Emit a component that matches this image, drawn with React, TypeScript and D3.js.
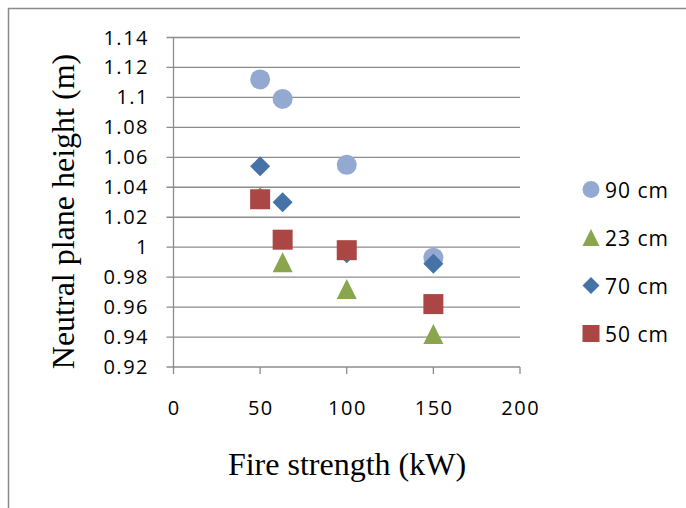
import * as d3 from 'd3';

// fire strength (kW) for every series
const fireKW = [50, 63, 100, 150];

const seriesNames = ['90 cm', '23 cm', '70 cm', '50 cm'];
const h90 = [1.112, 1.099, 1.055, 0.993];
const h23 = [1.034, 0.990, 0.972, 0.942];
const h70 = [1.054, 1.030, 0.996, 0.989];
const h50 = [1.032, 1.005, 0.998, 0.962];

const xTicks = [0, 50, 100, 150, 200];
const yTicks = [0.92, 0.94, 0.96, 0.98, 1.0, 1.02, 1.04, 1.06, 1.08, 1.1, 1.12, 1.14];

const W = 686;
const H = 508;
const plot = { left: 173.5, right: 520, top: 37.5, bottom: 367 };

const tickFont = '"Open Sans", Lato, sans-serif';
const titleFont = '"Liberation Serif", "Times New Roman", serif';

// excel-like marker shapes, centred on their bounding box
const triangle = {
  draw(ctx: any, size: number) {
    const r = Math.sqrt(size) / 2;
    ctx.moveTo(0, -r);
    ctx.lineTo(r, r);
    ctx.lineTo(-r, r);
    ctx.closePath();
  },
};
const diamond = {
  draw(ctx: any, size: number) {
    const r = Math.sqrt(size) / 2;
    ctx.moveTo(0, -r);
    ctx.lineTo(r, 0);
    ctx.lineTo(0, r);
    ctx.lineTo(-r, 0);
    ctx.closePath();
  },
};

const series = [
  { name: seriesNames[0], values: h90, color: '#93a9d2', type: d3.symbolCircle, size: Math.PI * 100, legendSize: Math.PI * 72 },
  { name: seriesNames[1], values: h23, color: '#89a54e', type: triangle, size: 400, legendSize: 290 },
  { name: seriesNames[2], values: h70, color: '#4572a7', type: diamond, size: 400, legendSize: 290 },
  { name: seriesNames[3], values: h50, color: '#aa4643', type: d3.symbolSquare, size: 400, legendSize: 290 },
];

export default function App() {
  const x = d3.scaleLinear().domain([0, 200]).range([plot.left, plot.right]);
  const y = d3.scaleLinear().domain([0.92, 1.14]).range([plot.bottom, plot.top]);
  const fmt = (v: number) => String(+v.toFixed(2));

  return (
    <svg width={W} height={H} style={{ position: 'absolute', left: 0, top: 0, background: '#fff' }}>
      <rect x={8.5} y={8.5} width={W + 20} height={H + 20} fill="#fff" stroke="#8a8a8a" strokeWidth={1.5} />

      {/* gridlines + y ticks */}
      {yTicks.map((t) => (
        <g key={t}>
          <line x1={plot.left - 7} x2={plot.right} y1={y(t)} y2={y(t)} stroke="#8c8c8c" strokeWidth={1.3} />
          <text x={149} y={y(t)} dy="0.35em" textAnchor="end" fontFamily={tickFont} fontSize={20} letterSpacing={1.5} fill="#000">
            {fmt(t)}
          </text>
        </g>
      ))}
      <line x1={plot.left} x2={plot.left} y1={plot.top} y2={plot.bottom} stroke="#8c8c8c" strokeWidth={1.3} />

      {/* x ticks */}
      {xTicks.map((t) => (
        <g key={t}>
          <line x1={x(t)} x2={x(t)} y1={plot.bottom} y2={plot.bottom + 7} stroke="#8c8c8c" strokeWidth={1.3} />
          <text x={x(t) + 0.75} y={415} textAnchor="middle" fontFamily={tickFont} fontSize={20} letterSpacing={1.5} fill="#000">
            {t}
          </text>
        </g>
      ))}

      {/* points */}
      {series.map((s) => (
        <g key={s.name}>
          {s.values.map((v, i) => (
            <path
              key={i}
              d={d3.symbol().type(s.type as any).size(s.size)() as string}
              transform={`translate(${x(fireKW[i])},${y(v)})`}
              fill={s.color}
            />
          ))}
        </g>
      ))}

      {/* legend */}
      {series.map((s, i) => {
        const cy = 189.5 + i * 48;
        return (
          <g key={s.name} transform={`translate(591,${cy})`}>
            <path d={d3.symbol().type(s.type as any).size(s.legendSize)() as string} fill={s.color} />
            <text x={14} y={8.5} fontFamily={tickFont} fontSize={21} letterSpacing={1} fill="#000">
              {s.name}
            </text>
          </g>
        );
      })}

      {/* axis titles */}
      <text x={347} y={475} textAnchor="middle" fontFamily={titleFont} fontSize={32} fill="#000">
        Fire strength (kW)
      </text>
      <text
        transform={`translate(74,211.5) rotate(-90)`}
        textAnchor="middle"
        fontFamily={titleFont}
        fontSize={32}
        fill="#000"
      >
        Neutral plane height (m)
      </text>
    </svg>
  );
}
